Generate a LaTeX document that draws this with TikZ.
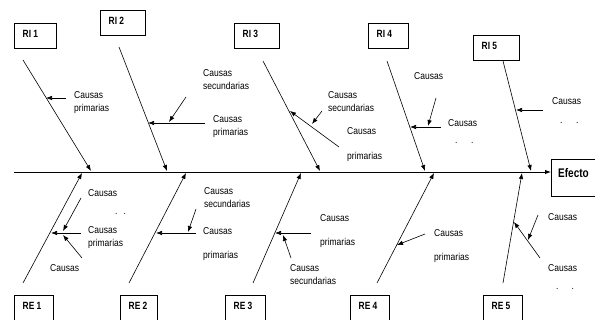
\documentclass[tikz,border=0pt]{standalone}
\usepackage{fontspec}
\newfontfamily\labfont[FakeStretch=0.85]{Liberation Sans}
\newfontfamily\bxfont[FakeStretch=0.8]{Liberation Sans}
\usetikzlibrary{arrows.meta,calc}
\tikzset{
  tip/.style={-{Latex[length=6pt,width=4.5pt]}},
  spineline/.style={line width=0.9pt, tip},
  bone/.style={line width=0.6pt, tip},
  sub/.style={line width=0.6pt, tip},
  lab/.style={font=\labfont\fontsize{10}{13}\selectfont, inner sep=0pt, anchor=west, align=left},
  dots/.style={font=\labfont\fontsize{10}{13}\selectfont, inner sep=0pt, anchor=base west},
  boxshape/.style={draw, line width=0.6pt, rectangle, anchor=north west, inner sep=0pt},
  boxlab/.style={font=\bxfont\bfseries\fontsize{10.5}{12}\selectfont, inner sep=0pt, anchor=west},
  efflab/.style={font=\bxfont\bfseries\fontsize{12.5}{14}\selectfont, inner sep=0pt, anchor=west}
}
\begin{document}
\begin{tikzpicture}[x=1pt,y=-1pt]
\useasboundingbox (0,0) rectangle (595,320);
\begin{scope}
\clip (0,0) rectangle (595,320);
% top boxes
\node[boxshape, minimum width=42, minimum height=25] (ri1) at (14,23) {};
\node[boxshape, minimum width=45, minimum height=25] (ri2) at (100,10) {};
\node[boxshape, minimum width=45, minimum height=25] (ri3) at (234,23) {};
\node[boxshape, minimum width=40, minimum height=25] (ri4) at (368,23) {};
\node[boxshape, minimum width=46, minimum height=25] (ri5) at (473,35) {};
\node[boxlab] (ri1t) at ($(ri1.north west)+(8.5,11)$) {RI 1};
\node[boxlab] (ri2t) at ($(ri2.north west)+(8.5,11)$) {RI 2};
\node[boxlab] (ri3t) at ($(ri3.north west)+(8.5,11)$) {RI 3};
\node[boxlab] (ri4t) at ($(ri4.north west)+(8.5,11)$) {RI 4};
\node[boxlab] (ri5t) at ($(ri5.north west)+(8.5,11)$) {RI 5};
% bottom boxes
\node[boxshape, minimum width=39, minimum height=35] (re1) at (14,295) {};
\node[boxshape, minimum width=37, minimum height=35] (re2) at (120,295) {};
\node[boxshape, minimum width=40, minimum height=35] (re3) at (225,295) {};
\node[boxshape, minimum width=39, minimum height=35] (re4) at (350,295) {};
\node[boxshape, minimum width=39, minimum height=35] (re5) at (483,295) {};
\node[boxlab] (re1t) at ($(re1.north west)+(8.5,11)$) {RE 1};
\node[boxlab] (re2t) at ($(re2.north west)+(8.5,11)$) {RE 2};
\node[boxlab] (re3t) at ($(re3.north west)+(8.5,11)$) {RE 3};
\node[boxlab] (re4t) at ($(re4.north west)+(8.5,11)$) {RE 4};
\node[boxlab] (re5t) at ($(re5.north west)+(8.5,11)$) {RE 5};
% effect box
\node[boxshape, minimum width=60, minimum height=37] (eff) at (551,159) {};
\node[efflab] (efft) at ($(eff.north west)+(7,14)$) {Efecto};
\end{scope}
% spine
\coordinate (sp0) at (14,172);
\draw[spineline] (sp0) -- (eff.west |- sp0);
% top bones
\coordinate (a1) at (23,60);  \coordinate (b1) at (91,171);
\coordinate (a2) at (119,47); \coordinate (b2) at (167,171);
\coordinate (a3) at (263,61); \coordinate (b3) at (320,171);
\coordinate (a4) at (387,61); \coordinate (b4) at (425,171);
\coordinate (a5) at (503,61); \coordinate (b5) at (531,171);
\draw[bone] (a1) -- (b1);
\draw[bone] (a2) -- (b2);
\draw[bone] (a3) -- (b3);
\draw[bone] (a4) -- (b4);
\draw[bone] (a5) -- (b5);
% bottom bones
\coordinate (c1) at (23,283);  \coordinate (d1) at (82,173);
\coordinate (c2) at (129,283); \coordinate (d2) at (186,173);
\coordinate (c3) at (253,283); \coordinate (d3) at (301,173);
\coordinate (c4) at (377,283); \coordinate (d4) at (434,173);
\coordinate (c5) at (503,283); \coordinate (d5) at (522,173);
\draw[bone] (c1) -- (d1);
\draw[bone] (c2) -- (d2);
\draw[bone] (c3) -- (d3);
\draw[bone] (c4) -- (d4);
\draw[bone] (c5) -- (d5);
% ---- top sub-causes
% RI 1
\coordinate (p1s) at (66,98); \coordinate (p1e) at (46,98);
\draw[sub] (p1s) -- (p1e);
\node[lab] (l1) at (74,102.5) {Causas\\primarias};
% RI 2
\coordinate (p2s) at (205,123); \coordinate (p2e) at (148,123);
\draw[sub] (p2s) -- (p2e);
\coordinate (q2s) at (186,97); \coordinate (q2e) at (169,122);
\draw[sub] (q2s) -- (q2e);
\node[lab] (l2a) at (203,80) {Causas\\secundarias};
\node[lab] (l2b) at (213,126.5) {Causas\\primarias};
% RI 3
\coordinate (p3s) at (339,147); \coordinate (p3e) at (290,111);
\draw[sub] (p3s) -- (p3e);
\coordinate (q3s) at (322,111); \coordinate (q3e) at (312,124);
\draw[sub] (q3s) -- (q3e);
\node[lab] (l3a) at (328,101.5) {Causas\\secundarias};
\node[lab] (l3b) at (347,131) {Causas};
\node[lab] (l3c) at (347,157) {primarias};
% RI 4
\coordinate (p4s) at (441,127); \coordinate (p4e) at (410,127);
\draw[sub] (p4s) -- (p4e);
\coordinate (q4s) at (436,98); \coordinate (q4e) at (428,126);
\draw[sub] (q4s) -- (q4e);
\node[lab] (l4a) at (414,76) {Causas};
\node[lab] (l4b) at (448,123) {Causas};
\node[dots] (l4c) at (455,144) {.\hspace{13.5pt}.};
% RI 5
\coordinate (p5s) at (543,110); \coordinate (p5e) at (516,110);
\draw[sub] (p5s) -- (p5e);
\node[lab] (l5a) at (552,101) {Causas};
\node[dots] (l5b) at (560,124) {.\hspace{13.5pt}.};
% ---- bottom sub-causes
% RE 1
\coordinate (r1s) at (81,233); \coordinate (r1e) at (51,233);
\draw[sub] (r1s) -- (r1e);
\coordinate (s1s) at (81,198); \coordinate (s1e) at (63,231);
\draw[sub] (s1s) -- (s1e);
\coordinate (u1s) at (82,258); \coordinate (u1e) at (63,235);
\draw[sub] (u1s) -- (u1e);
\node[lab] (m1a) at (88,193) {Causas};
\node[dots] (m1b) at (115,215) {.\hspace{6pt}.};
\node[lab] (m1c) at (88,238) {Causas\\primarias};
\node[lab] (m1d) at (50,268) {Causas};
% RE 2
\coordinate (r2s) at (196,233); \coordinate (r2e) at (156,233);
\draw[sub] (r2s) -- (r2e);
\coordinate (s2s) at (196,209); \coordinate (s2e) at (188,232);
\draw[sub] (s2s) -- (s2e);
\node[lab] (m2a) at (204,197.5) {Causas\\secundarias};
\node[lab] (m2b) at (203,231) {Causas};
\node[lab] (m2c) at (203,256) {primarias};
% RE 3
\coordinate (r3s) at (311,233); \coordinate (r3e) at (275,233);
\draw[sub] (r3s) -- (r3e);
\coordinate (s3s) at (291,258); \coordinate (s3e) at (283,235);
\draw[sub] (s3s) -- (s3e);
\node[lab] (m3a) at (320,218) {Causas};
\node[lab] (m3b) at (320,243) {primarias};
\node[lab] (m3c) at (290,274.5) {Causas\\secundarias};
% RE 4
\coordinate (r4s) at (425,234); \coordinate (r4e) at (397,245);
\draw[sub] (r4s) -- (r4e);
\node[lab] (m4a) at (434,233) {Causas};
\node[lab] (m4b) at (434,258) {primarias};
% RE 5
\coordinate (r5s) at (540,258); \coordinate (r5e) at (514,222);
\draw[sub] (r5s) -- (r5e);
\coordinate (s5s) at (538,215); \coordinate (s5e) at (528,240);
\draw[sub] (s5s) -- (s5e);
\node[lab] (m5a) at (548,217) {Causas};
\node[lab] (m5b) at (548,268) {Causas};
\node[dots] (m5c) at (556,290) {.\hspace{13pt}.};
\end{tikzpicture}
\end{document}
